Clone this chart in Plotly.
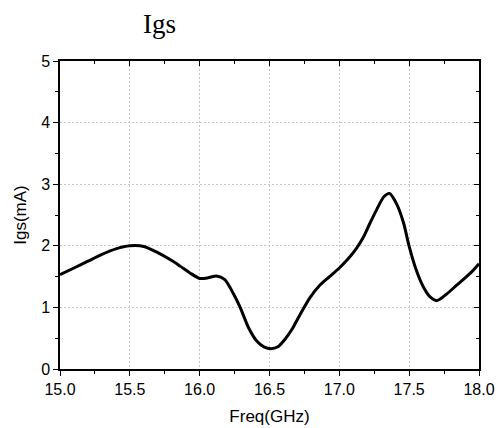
import plotly.graph_objects as go

freq = [15.0, 15.1, 15.2, 15.3, 15.4, 15.5, 15.6, 15.69, 15.8, 15.86, 15.93, 16.0, 16.06,
        16.12, 16.18, 16.24, 16.29, 16.35, 16.41, 16.46, 16.51, 16.56, 16.61, 16.66, 16.72,
        16.79, 16.86, 16.93, 17.0, 17.06, 17.12, 17.17, 17.22, 17.27, 17.32, 17.36, 17.41,
        17.46, 17.5, 17.55, 17.6, 17.65, 17.7, 17.77, 17.84, 17.94, 18.0]
igs = [1.53, 1.64, 1.75, 1.86, 1.95, 2.0, 1.99, 1.90, 1.76, 1.67, 1.56, 1.47, 1.48,
       1.51, 1.45, 1.23, 1.0, 0.67, 0.45, 0.36, 0.33, 0.36, 0.48, 0.64, 0.89,
       1.16, 1.36, 1.50, 1.64, 1.78, 1.95, 2.13, 2.37, 2.60, 2.80, 2.85, 2.68,
       2.37, 1.99, 1.61, 1.34, 1.17, 1.11, 1.22, 1.36, 1.56, 1.71]

x_range = [15.0, 18.0]
y_range = [0, 5]

fig = go.Figure()
fig.add_trace(go.Scatter(x=freq, y=igs, mode="lines",
                         line=dict(color="black", width=3, shape="spline", smoothing=0.7),
                         showlegend=False, hoverinfo="skip"))
# invisible trace for mirrored top/right axes
fig.add_trace(go.Scatter(x=x_range, y=y_range, xaxis="x2", yaxis="y2", mode="lines",
                         line=dict(width=0), opacity=0, showlegend=False, hoverinfo="skip"))

axfont = dict(family="Liberation Sans, Arial", size=16, color="black")
titlefont = dict(family="Liberation Sans, Arial", size=17, color="black")
grid = dict(showgrid=True, gridcolor="#c8c8c8", griddash="2px,2px", gridwidth=1)
# page body has an 8px margin, so the figure is 8px smaller than the window
fig.update_layout(
    width=496, height=420,
    margin=dict(l=52, r=25, t=53, b=59, autoexpand=False),
    paper_bgcolor="white", plot_bgcolor="white",
    xaxis=dict(range=x_range, dtick=0.5, tickformat=".1f", ticks="outside", ticklen=5,
               tickwidth=1.2, tickcolor="black", showline=True, linecolor="black", linewidth=1.5,
               zeroline=False, tickfont=axfont, automargin=False, **grid,
               minor=dict(dtick=0.25, ticks="outside", ticklen=3, tickcolor="black", showgrid=False),
               title=dict(text="Freq(GHz)", font=titlefont, standoff=13)),
    yaxis=dict(range=y_range, dtick=1, ticks="outside", ticklen=5, tickwidth=1.2,
               tickcolor="black", showline=True, linecolor="black", linewidth=1.5,
               zeroline=False, tickfont=axfont, automargin=False, **grid,
               minor=dict(dtick=0.5, ticks="outside", ticklen=3, tickcolor="black", showgrid=False),
               title=dict(text="Igs(mA)", font=titlefont, standoff=10)),
    xaxis2=dict(range=x_range, overlaying="x", side="top", dtick=0.5, ticks="inside", ticklen=5,
                tickcolor="black", showline=True, linecolor="black", linewidth=1.5,
                showticklabels=False, showgrid=False, zeroline=False, automargin=False,
                minor=dict(dtick=0.25, ticks="inside", ticklen=3, tickcolor="black", showgrid=False)),
    yaxis2=dict(range=y_range, overlaying="y", side="right", dtick=1, ticks="inside", ticklen=5,
                tickcolor="black", showline=True, linecolor="black", linewidth=1.5,
                showticklabels=False, showgrid=False, zeroline=False, automargin=False,
                minor=dict(dtick=0.5, ticks="inside", ticklen=3, tickcolor="black", showgrid=False)),
    annotations=[dict(text="Igs", xref="paper", yref="paper", x=(159 - 60) / 419, y=1 + (61 - 24) / 308,
                      showarrow=False, xanchor="center", yanchor="middle",
                      font=dict(family="Liberation Serif, Times New Roman", size=27, color="black"))],
)

fig.write_html("out.html")
